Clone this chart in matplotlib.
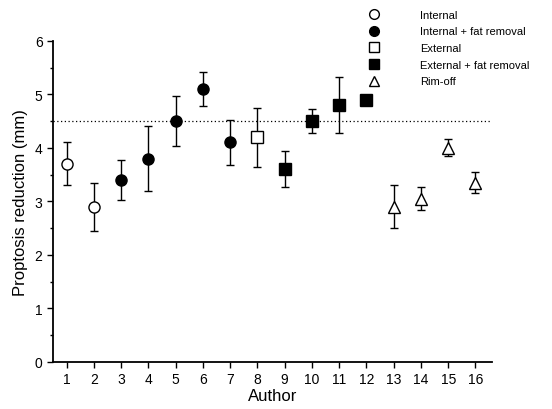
import matplotlib
matplotlib.use('Agg')
import matplotlib.pyplot as plt
from matplotlib.ticker import MultipleLocator
from matplotlib.lines import Line2D

plt.rcParams['font.family'] = ['Liberation Sans', 'DejaVu Sans']

# ── data ─────────────────────────────────────────────────────────────────────
authors = list(range(1, 17))
means   = [3.7, 2.9, 3.4, 3.8, 4.5, 5.1, 4.1, 4.2, 3.6, 4.5, 4.8, 4.9, 2.9, 3.05, 4.0, 3.35]
errors  = [0.4, 0.45, 0.38, 0.6, 0.47, 0.32, 0.42, 0.55, 0.34, 0.22, 0.52, 0.05, 0.4, 0.22, 0.16, 0.2]
groups  = ['int', 'int', 'intfat', 'intfat', 'intfat', 'intfat', 'intfat', 'ext',
           'extfat', 'extfat', 'extfat', 'extfat', 'rim', 'rim', 'rim', 'rim']
REF_LINE = 4.5

STYLES = {
    'int':    dict(marker='o', mfc='white', label='Internal'),
    'intfat': dict(marker='o', mfc='black', label='Internal + fat removal'),
    'ext':    dict(marker='s', mfc='white', label='External'),
    'extfat': dict(marker='s', mfc='black', label='External + fat removal'),
    'rim':    dict(marker='^', mfc='white', label='Rim-off'),
}

fig = plt.figure(figsize=(5.52, 4.10), dpi=100)
ax = fig.add_axes([0.096, 0.115, 0.795, 0.783])

for key, st in STYLES.items():
    xs = [a for a, g in zip(authors, groups) if g == key]
    ys = [m for m, g in zip(means, groups) if g == key]
    es = [e for e, g in zip(errors, groups) if g == key]
    ax.errorbar(xs, ys, yerr=es, fmt=st['marker'], mfc=st['mfc'], mec='black',
                mew=1.0, ms=8, ecolor='black', elinewidth=1.0, capsize=3,
                capthick=1.0, zorder=3)

ax.axhline(REF_LINE, color='black', linestyle=(0, (1, 2)), linewidth=0.9, zorder=1)

ax.set_xlim(0.5, 16.6)
ax.set_ylim(0, 6)
ax.set_xticks(authors)
ax.yaxis.set_major_locator(MultipleLocator(1))
ax.yaxis.set_minor_locator(MultipleLocator(0.5))
ax.tick_params(axis='both', direction='out', labelsize=10, width=1.0, length=4)
ax.tick_params(axis='y', which='minor', length=2.5, width=1.0)
for s in ['top', 'right']:
    ax.spines[s].set_visible(False)
for s in ['left', 'bottom']:
    ax.spines[s].set_linewidth(1.3)

ax.set_xlabel('Author', fontsize=12, labelpad=1)
ax.set_ylabel('Proptosis reduction (mm)', fontsize=12, labelpad=5)

handles = [Line2D([], [], linestyle='none', marker=st['marker'], mfc=st['mfc'],
                  mec='black', ms=7, label=st['label']) for st in STYLES.values()]
fig.legend(handles=handles, loc='upper left', bbox_to_anchor=(0.645, 0.99),
           frameon=False, fontsize=8, handletextpad=3.2, labelspacing=0.6,
           borderaxespad=0.2)

fig.savefig('out.png', dpi=100)
